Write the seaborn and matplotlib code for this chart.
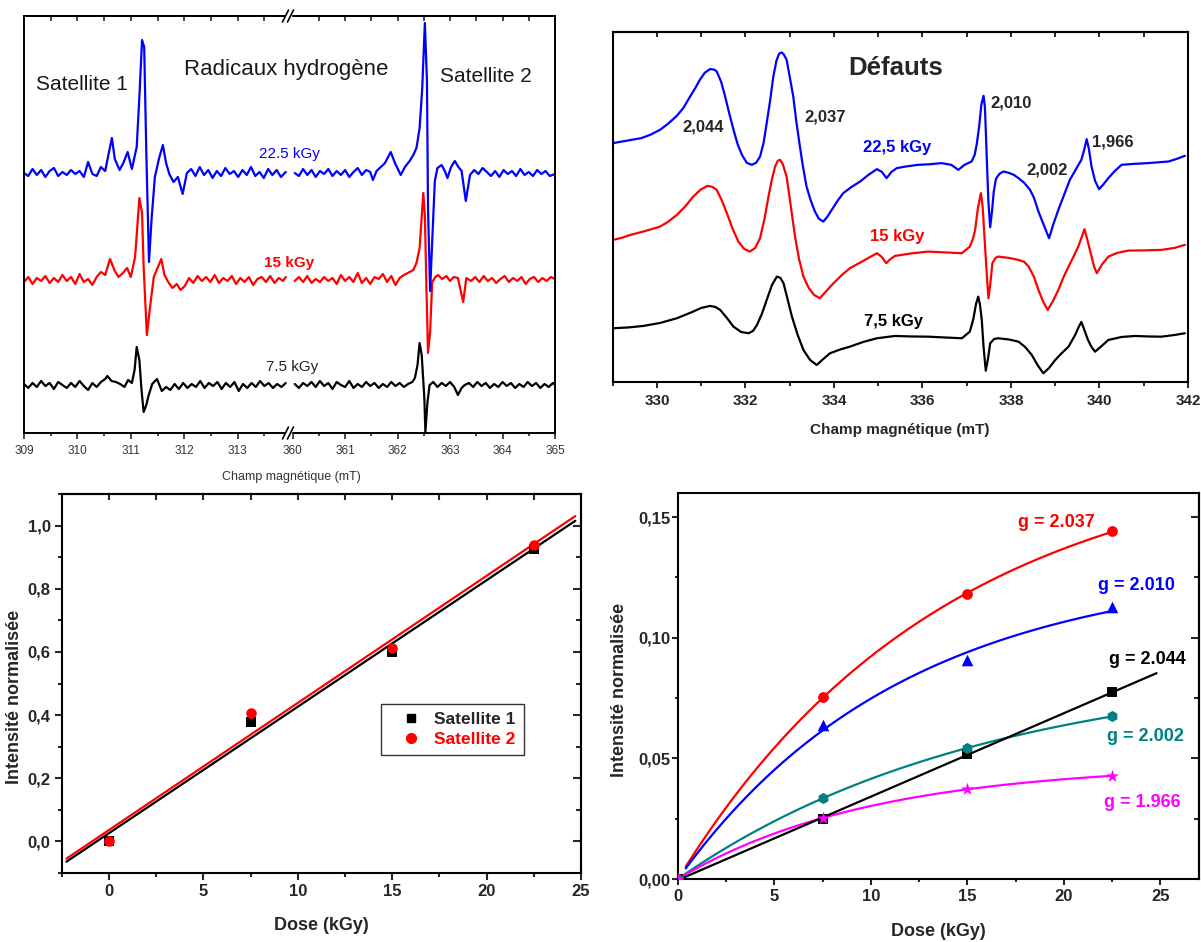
import numpy as np
import pandas as pd
import matplotlib
matplotlib.use("Agg")
import matplotlib.pyplot as plt
from matplotlib.lines import Line2D
from matplotlib.patches import Rectangle
from matplotlib.ticker import FuncFormatter
import seaborn as sns

# ---------------- Données ----------------
# Radicaux hydrogène, satellite 1 (mT / signal a.u., ligne de base = 0)
S1_X_BLUE = [309.00, 309.08, 309.16, 309.24, 309.32, 309.40, 309.48, 309.56, 309.64, 309.72,
             309.80, 309.88, 309.96, 310.04, 310.12, 310.20, 310.28, 310.36, 310.44, 310.52,
             310.58, 310.645, 310.70, 310.79, 310.86, 310.94, 311.02, 311.11, 311.16, 311.21,
             311.25, 311.29, 311.34, 311.39, 311.45, 311.53, 311.60, 311.66, 311.72, 311.80,
             311.88, 311.97, 312.05, 312.13, 312.21, 312.29, 312.37, 312.45, 312.53, 312.61,
             312.69, 312.77, 312.85, 312.93, 313.01, 313.09, 313.17, 313.25, 313.33, 313.41,
             313.49, 313.57, 313.65, 313.73, 313.81, 313.90]
S1_Y_BLUE = [0, -3, 4, -2, 3, -4, 2, 5, -3, 1,
             -2, 3, -1, 2, -4, 11, -1, -3, 6, 2,
             18, 35, 14, 3, 10, 21, 4, 26, 76, 133,
             126, 20, -89, -45, -4, 15, 28, 10, -1, -9,
             -4, -21, 0, 4, -3, 6, -2, 3, -5, 2,
             -3, 5, -1, 2, -4, 3, -2, 6, -3, 1,
             -5, 4, -2, 3, -4, 1]
S1_X_RED = [309.00, 309.08, 309.16, 309.24, 309.32, 309.40, 309.48, 309.56, 309.64, 309.72,
            309.80, 309.88, 309.96, 310.04, 310.12, 310.20, 310.28, 310.36, 310.44, 310.52,
            310.61, 310.70, 310.77, 310.85, 310.93, 311.00, 311.08, 311.16, 311.21, 311.24,
            311.30, 311.36, 311.43, 311.50, 311.57, 311.63, 311.70, 311.78, 311.86, 311.93,
            312.01, 312.09, 312.17, 312.25, 312.33, 312.41, 312.49, 312.57, 312.65, 312.73,
            312.81, 312.89, 312.97, 313.05, 313.13, 313.21, 313.29, 313.37, 313.45, 313.53,
            313.61, 313.69, 313.77, 313.85, 313.90]
S1_Y_RED = [-2, 3, -4, 2, -1, 4, -3, 2, -2, 5,
            -1, 3, -4, 6, -2, 1, -5, 3, 8, 5,
            21, 9, 3, 7, 12, 3, 23, 82, 67, 13,
            -55, -27, 3, 12, 21, 5, -2, -8, -4, -10,
            -6, 2, -3, 4, -1, 3, -2, 5, -3, 2,
            -1, 4, -4, 2, -2, 3, -5, 1, 3, -2,
            4, -3, 2, -1, 3]
S1_X_BLACK = [309.00, 309.08, 309.16, 309.24, 309.32, 309.40, 309.48, 309.56, 309.64, 309.72,
              309.80, 309.88, 309.96, 310.04, 310.12, 310.20, 310.28, 310.36, 310.44, 310.52,
              310.56, 310.64, 310.72, 310.80, 310.88, 310.95, 311.02, 311.07, 311.11, 311.16,
              311.20, 311.24, 311.29, 311.33, 311.40, 311.49, 311.58, 311.66, 311.74, 311.82,
              311.90, 311.98, 312.06, 312.14, 312.22, 312.30, 312.38, 312.46, 312.54, 312.62,
              312.70, 312.78, 312.86, 312.94, 313.02, 313.10, 313.18, 313.26, 313.34, 313.42,
              313.50, 313.58, 313.66, 313.74, 313.82, 313.90]
S1_Y_BLACK = [1, -3, 2, -2, 4, -1, 2, -4, 3, 0,
              -3, 2, -2, 4, -1, -5, 2, -2, 3, 6,
              9, 4, 3, 1, -2, 5, 2, 15, 38, 25,
              -5, -27, -20, -11, 1, 6, -6, -2, -5, 1,
              -4, 2, -3, 1, -2, 4, -3, 2, -1, 3,
              -4, 2, -2, 3, -6, 1, -3, 2, -2, 4,
              -1, 2, -3, 1, -2, 2]

# Radicaux hydrogène, satellite 2
S2_X_BLUE = [360.04, 360.12, 360.20, 360.28, 360.36, 360.44, 360.52, 360.60, 360.68, 360.76,
             360.84, 360.92, 361.00, 361.08, 361.16, 361.24, 361.32, 361.40, 361.48, 361.53,
             361.60, 361.68, 361.76, 361.87, 361.95, 362.06, 362.14, 362.23, 362.30, 362.36,
             362.42, 362.47, 362.52, 362.56, 362.58, 362.62, 362.66, 362.71, 362.76, 362.84,
             362.90, 362.95, 363.02, 363.09, 363.16, 363.22, 363.30, 363.38, 363.46, 363.54,
             363.62, 363.70, 363.78, 363.86, 363.94, 364.02, 364.10, 364.18, 364.26, 364.34,
             364.42, 364.50, 364.58, 364.66, 364.74, 364.82, 364.90, 365.00]
S2_Y_BLUE = [0, -3, 4, -2, 3, -4, 2, -1, 4, -3,
             2, -2, 3, -4, 1, 5, -2, 3, 1, -7,
             2, 6, 10, 21, 10, -2, 6, 12, 18, 25,
             45, 85, 150, 92, -35, -118, -68, -8, 5, 8,
             2, -5, 6, 12, 6, 2, -28, -2, 3, -1,
             5, 1, -3, 2, -4, 3, -1, 2, -3, 4,
             -2, 1, -3, 3, -1, 2, -3, -1]
S2_X_RED = [360.04, 360.12, 360.20, 360.28, 360.36, 360.44, 360.52, 360.60, 360.68, 360.76,
            360.84, 360.92, 361.00, 361.08, 361.16, 361.24, 361.32, 361.40, 361.48, 361.56,
            361.64, 361.72, 361.80, 361.88, 361.96, 362.04, 362.12, 362.23, 362.30, 362.36,
            362.42, 362.49, 362.52, 362.55, 362.58, 362.62, 362.66, 362.72, 362.77, 362.85,
            362.93, 363.00, 363.07, 363.15, 363.25, 363.31, 363.40, 363.48, 363.56, 363.64,
            363.72, 363.80, 363.88, 363.96, 364.04, 364.12, 364.20, 364.28, 364.36, 364.44,
            364.52, 364.60, 364.68, 364.76, 364.84, 364.92, 365.00]
S2_Y_RED = [-1, 3, -2, 4, -3, 1, -2, 3, -1, 2,
            -4, 5, -1, 3, -2, 7, -3, 2, -4, 3,
            1, 6, -2, 4, -5, 2, 5, 8, 10, 17,
            32, 87, 65, -8, -73, -52, -2, 3, 5, 1,
            4, -1, 3, 2, -22, 2, -1, 3, -2, 4,
            -1, 2, -3, 1, 4, -2, 2, -1, 3, -4,
            1, 3, -2, 2, -1, 3, 1]
S2_X_BLACK = [360.04, 360.12, 360.20, 360.28, 360.36, 360.44, 360.52, 360.60, 360.68, 360.76,
              360.84, 360.92, 361.00, 361.08, 361.16, 361.24, 361.32, 361.40, 361.48, 361.56,
              361.64, 361.72, 361.80, 361.88, 361.96, 362.04, 362.12, 362.20, 362.28, 362.33,
              362.38, 362.42, 362.46, 362.51, 362.53, 362.57, 362.61, 362.68, 362.76, 362.84,
              362.92, 363.00, 363.08, 363.15, 363.22, 363.28, 363.36, 363.44, 363.52, 363.60,
              363.68, 363.76, 363.84, 363.92, 364.00, 364.08, 364.16, 364.24, 364.32, 364.40,
              364.48, 364.56, 364.64, 364.72, 364.80, 364.88, 364.96, 365.00]
S2_Y_BLACK = [1, -3, 2, -1, 3, -2, 4, -1, 2, -4,
              3, 0, -2, 4, -3, 1, -2, 3, -1, 2,
              -3, 1, -2, 3, -1, 2, -2, 1, 3, 7,
              20, 42, 30, -13, -47, -17, 0, 3, -2, 2,
              -1, 3, -2, -10, -3, 0, 2, -2, 3, -1,
              2, -3, 1, -2, 3, -1, 2, -3, 1, -2,
              3, -1, 2, -3, 1, -2, 2, 0]

# Défauts (mT / signal a.u.)
DEF_X_BLUE = [329.01, 329.65, 329.85, 330.07, 330.25, 330.45, 330.60, 330.75, 330.87, 330.97,
              331.08, 331.20, 331.30, 331.35, 331.45, 331.54, 331.63, 331.73, 331.82, 331.92,
              332.03, 332.14, 332.24, 332.33, 332.41, 332.48, 332.56, 332.63, 332.70, 332.76,
              332.82, 332.87, 332.93, 333.00, 333.08, 333.15, 333.23, 333.30, 333.38, 333.47,
              333.57, 333.66, 333.76, 333.85, 333.95, 334.08, 334.21, 334.40, 334.59, 334.78,
              334.97, 335.08, 335.19, 335.30, 335.42, 335.65, 335.91, 336.15, 336.43, 336.65,
              336.81, 336.95, 337.11, 337.18, 337.23, 337.28, 337.33, 337.38, 337.41, 337.43,
              337.46, 337.49, 337.53, 337.57, 337.61, 337.66, 337.74, 337.83, 337.95, 338.06,
              338.17, 338.30, 338.43, 338.52, 338.62, 338.74, 338.86, 338.96, 339.07, 339.20,
              339.33, 339.46, 339.59, 339.66, 339.71, 339.76, 339.82, 339.90, 339.99, 340.08,
              340.20, 340.35, 340.50, 340.80, 341.10, 341.33, 341.56, 341.75, 341.93]
DEF_Y_BLUE = [23.7, 28.7, 32, 37, 43, 51, 59, 70.3, 79, 87,
              94, 97.7, 97, 95.3, 85, 70.3, 54, 37, 23, 12,
              4, 2, 4, 10.3, 24, 43.7, 67, 90.3, 106, 113,
              114.3, 112, 107, 90, 70.3, 45, 20.3, 0, -19.7, -33,
              -44.7, -52, -54.7, -50, -43, -34, -26.3, -20, -14.7, -8,
              -2.3, -5, -11.3, -5, -1.3, 0.5, 2, 2.5, 3.7, 2,
              -3, 2, 5.3, 12, 23.7, 40, 62, 71, 60, 37,
              0, -35, -60.3, -45, -25, -12, -7, -4.7, -6, -8,
              -11.3, -16, -23, -31, -44.7, -58, -71.3, -57, -43, -28,
              -13, -3, 7, 18, 27.7, 18, 0.3, -14, -22.3, -18,
              -11.3, -4, 2, 3, 3.7, 4.5, 5.3, 8, 11]
DEF_X_RED = [329.01, 329.20, 329.40, 329.69, 329.90, 330.07, 330.25, 330.45, 330.65, 330.82,
             330.98, 331.14, 331.25, 331.35, 331.47, 331.58, 331.71, 331.84, 331.97, 332.10,
             332.22, 332.33, 332.43, 332.52, 332.60, 332.67, 332.73, 332.78, 332.84, 332.93,
             333.02, 333.12, 333.21, 333.31, 333.43, 333.55, 333.68, 333.83, 333.99, 334.18,
             334.36, 334.66, 334.97, 335.08, 335.18, 335.28, 335.38, 335.75, 336.13, 336.50,
             336.89, 337.07, 337.14, 337.19, 337.25, 337.32, 337.36, 337.40, 337.45, 337.49,
             337.53, 337.58, 337.65, 337.71, 337.95, 338.17, 338.30, 338.40, 338.52, 338.62,
             338.73, 338.83, 338.95, 339.07, 339.18, 339.30, 339.41, 339.52, 339.60, 339.66,
             339.72, 339.82, 339.88, 339.94, 340.05, 340.20, 340.40, 340.65, 341.00, 341.40,
             341.70, 341.93]
DEF_Y_RED = [17, 19, 22, 25.3, 28, 30.3, 35, 42, 51, 60.3,
             67, 71, 70, 67, 56, 43.7, 28, 15.3, 8, 5.3,
             9, 18.7, 38, 60.3, 78, 90.3, 96, 97, 93, 80.3,
             52, 20.3, -2, -19.7, -31, -38, -41.3, -34, -26.3, -18,
             -11.3, -4, 3.7, 0, -6.3, -2, 1, 3.5, 5.3, 4.5,
             3.7, 10.3, 18, 27, 48, 63.7, 50, 20.3, -15, -41.3,
             -28, -6.3, -1, 0.3, -1, -3, -5, -9.7, -20, -33,
             -45, -53, -44, -33, -21, -9.7, 0, 10.3, 20, 27.7,
             18, 0.3, -10, -16.3, -8, 0.3, 4, 6.3, 6.5, 7,
             9, 12]
DEF_X_BLACK = [329.01, 329.35, 329.69, 330.07, 330.45, 330.80, 331.00, 331.20, 331.32, 331.43,
               331.58, 331.73, 331.90, 332.07, 332.17, 332.26, 332.37, 332.48, 332.60, 332.71,
               332.79, 332.86, 332.95, 333.05, 333.18, 333.31, 333.46, 333.61, 333.76, 333.91,
               334.14, 334.36, 334.66, 334.97, 335.38, 335.75, 336.13, 336.50, 336.89, 337.07,
               337.15, 337.21, 337.26, 337.30, 337.34, 337.38, 337.43, 337.48, 337.53, 337.62,
               337.71, 337.95, 338.17, 338.32, 338.47, 338.60, 338.73, 338.86, 339.00, 339.15,
               339.30, 339.45, 339.53, 339.59, 339.65, 339.74, 339.82, 339.90, 340.05, 340.20,
               340.50, 340.80, 341.10, 341.40, 341.70, 341.93]
DEF_Y_BLACK = [8.7, 9.5, 11, 14, 18.7, 25, 29, 31, 30, 27,
               19, 10.3, 5, 3.7, 6, 12, 23, 37, 52, 60.3,
               59, 53.7, 38, 20.3, 2, -13, -23, -28, -22, -16.3,
               -12.5, -9.7, -5, -1.3, 1, 0.5, 0.3, -0.5, -1.3, 5.3,
               18, 33, 40.3, 32, 17, -10, -33.7, -22, -6.3, -2,
               -1.3, -2.5, -4.7, -10, -18, -28, -36.3, -31, -23, -16,
               -9.7, 2, 10, 15, 8, -3, -10, -14.7, -9, -3,
               0, 1, 0.5, 0.3, 2, 3.7]

# Intensité vs dose
DOSE = [0, 7.5, 15, 22.5]
SAT1 = [0.0, 0.378, 0.601, 0.927]
SAT2 = [0.0, 0.406, 0.611, 0.938]

G_2037 = [0, 0.0755, 0.1180, 0.1442]
G_2010 = [0, 0.0638, 0.0907, 0.1127]
G_2044 = [0, 0.0247, 0.0518, 0.0774]
G_2002 = [0, 0.0336, 0.0541, 0.0675]
G_1966 = [0, 0.0251, 0.0375, 0.0426]

# ---------------- Mise en forme ----------------
sns.set_theme(style="ticks")
plt.rcParams["font.family"] = ["Liberation Sans", "DejaVu Sans"]
plt.rcParams["axes.linewidth"] = 1.5
plt.rcParams["axes.edgecolor"] = "black"

W, H = 1201, 942
fig = plt.figure(figsize=(W / 100, H / 100), dpi=100)
fig.patch.set_facecolor("white")

BLUE, RED, BLACK = "#0000FF", "#FF0000", "#000000"
TEAL, MAGENTA = "#008080", "#FF00FF"


def frac(px, py):
    return px / W, 1 - py / H


def axes_px(left, top, right, bottom):
    return fig.add_axes([left / W, 1 - bottom / H, (right - left) / W, (bottom - top) / H])


def trace(ax, x, y, color, offset=0.0, lw=1.6):
    df = pd.DataFrame({"champ": x, "signal": np.asarray(y, float) + offset})
    sns.lineplot(data=df, x="champ", y="signal", ax=ax, color=color,
                 linewidth=lw, sort=False, estimator=None)
    ax.set(xlabel="", ylabel="")


def top_ticks(ax, ticks, length=3.5, width=1.3):
    sec = ax.secondary_xaxis("top")
    sec.set_xticks(ticks, labels=[""] * len(ticks))
    sec.tick_params(direction="in", length=length, width=width)
    sec.spines["top"].set_linewidth(ax.spines["top"].get_linewidth())
    return sec


def right_ticks(ax, major, minor, width=1.5):
    sec = ax.secondary_yaxis("right")
    sec.set_yticks(major, labels=[""] * len(major))
    sec.set_yticks(minor, minor=True)
    sec.tick_params(which="major", direction="in", length=5.5, width=width)
    sec.tick_params(which="minor", direction="in", length=3.5, width=width)
    sec.spines["right"].set_linewidth(ax.spines["right"].get_linewidth())
    return sec


def comma(ndec):
    return FuncFormatter(lambda v, _: f"{v:.{ndec}f}".replace(".", ","))


# ---------- (a) Radicaux hydrogène, axe coupé ----------
axAL = axes_px(24, 16, 290, 433)
axAR = axes_px(290, 16, 555, 433)
OFF_A = {"blue": 260, "red": 153, "black": 48}

trace(axAL, S1_X_BLACK, S1_Y_BLACK, BLACK, OFF_A["black"])
trace(axAL, S1_X_RED, S1_Y_RED, RED, OFF_A["red"])
trace(axAL, S1_X_BLUE, S1_Y_BLUE, BLUE, OFF_A["blue"])
trace(axAR, S2_X_BLACK, S2_Y_BLACK, BLACK, OFF_A["black"])
trace(axAR, S2_X_RED, S2_Y_RED, RED, OFF_A["red"])
trace(axAR, S2_X_BLUE, S2_Y_BLUE, BLUE, OFF_A["blue"])

axAL.set_xlim(309, 313.98)
axAR.set_xlim(359.95, 365)
axAL.set_xticks([309, 310, 311, 312, 313])
axAL.set_xticks(np.arange(309.5, 313.6, 1.0), minor=True)
axAR.set_xticks([360, 361, 362, 363, 364, 365])
axAR.set_xticks(np.arange(360.5, 364.6, 1.0), minor=True)
for ax in (axAL, axAR):
    ax.set_ylim(0, 417)
    ax.set_yticks([])
    ax.spines[:].set_linewidth(1.4)
    ax.tick_params(axis="x", which="major", direction="out", length=4.5, width=1.2,
                   labelsize=8.5, labelcolor="#333333", pad=4)
    ax.tick_params(axis="x", which="minor", direction="out", length=2.5, width=1.2)
axAL.spines["right"].set_visible(False)
axAR.spines["left"].set_visible(False)
top_ticks(axAL, list(np.arange(309.5, 313.6, 0.5)), length=3.5, width=1.2)
top_ticks(axAR, list(np.arange(360.5, 364.6, 0.5)), length=3.5, width=1.2)

# marques de coupure //
for py in (16, 433):
    fig.add_artist(Rectangle((286 / W, 1 - (py + 3) / H), 5 / W, 6 / H,
                             transform=fig.transFigure, color="white", zorder=10))
    for dx in (-2.5, 2.5):
        x0, y0 = frac(288 + dx - 3, py + 6)
        x1, y1 = frac(288 + dx + 3, py - 6)
        fig.add_artist(Line2D([x0, x1], [y0, y1], transform=fig.transFigure,
                              color="black", lw=1.2, zorder=11))

fig.text(*frac(82, 85), "Satellite 1", ha="center", va="center", fontsize=15, color="#1a1a1a")
fig.text(*frac(286, 69), "Radicaux hydrogène", ha="center", va="center", fontsize=16, color="#1a1a1a")
fig.text(*frac(486, 77), "Satellite 2", ha="center", va="center", fontsize=15, color="#1a1a1a")
fig.text(*frac(289, 154), "22.5 kGy", ha="center", va="center", fontsize=11, color=BLUE)
fig.text(*frac(289, 263), "15 kGy", ha="center", va="center", fontsize=11, color=RED,
         fontweight="bold")
fig.text(*frac(292, 367), "7.5 kGy", ha="center", va="center", fontsize=11, color="#222222")
fig.text(*frac(291, 477), "Champ magnétique (mT)", ha="center", va="center",
         fontsize=9, color="#333333")

# ---------- (b) Défauts ----------
axB = axes_px(612.7, 31.7, 1188, 382)
OFF_B = {"blue": 215, "red": 125, "black": 45}
trace(axB, DEF_X_BLACK, DEF_Y_BLACK, BLACK, OFF_B["black"], lw=1.6)
trace(axB, DEF_X_RED, DEF_Y_RED, RED, OFF_B["red"], lw=1.6)
trace(axB, DEF_X_BLUE, DEF_Y_BLUE, BLUE, OFF_B["blue"], lw=1.6)
axB.set_xlim(329, 342)
axB.set_ylim(0, 350)
axB.set_yticks([])
axB.set_xticks(np.arange(330, 343, 2))
axB.set_xticks(np.arange(329, 342, 2), minor=True)
axB.tick_params(axis="x", which="major", direction="out", length=4.5, width=1.4,
                labelsize=11, pad=4)
axB.tick_params(axis="x", which="minor", direction="out", length=3, width=1.4)
for lab in axB.get_xticklabels():
    lab.set_fontweight("bold")
top_ticks(axB, list(range(330, 342)), length=3.5, width=1.4)

axB.text(335.40, 314, "Défauts", ha="center", va="center", fontsize=18.5, fontweight="bold")
for xv, yv, s in [(331.04, 255, "2,044"), (333.80, 265, "2,037"), (338.01, 279, "2,010"),
                  (340.31, 240, "1,966"), (338.81, 212, "2,002")]:
    axB.text(xv, yv, s, ha="center", va="center", fontsize=12, fontweight="bold")
axB.text(335.42, 234, "22,5 kGy", ha="center", va="center", fontsize=12, fontweight="bold", color=BLUE)
axB.text(335.42, 145, "15 kGy", ha="center", va="center", fontsize=12, fontweight="bold", color=RED)
axB.text(335.35, 60, "7,5 kGy", ha="center", va="center", fontsize=12, fontweight="bold", color=BLACK)
fig.text(*frac(900, 430), "Champ magnétique (mT)", ha="center", va="center",
         fontsize=11, fontweight="bold")

# ---------- (c) Satellites vs dose ----------
axC = axes_px(61.7, 494, 581, 873)
dose = np.array(DOSE, float)
fit_x = np.array([-2.25, 24.7])
for vals, col in ((SAT1, BLACK), (SAT2, RED)):
    k, b = np.polyfit(dose, np.array(vals), 1)
    sns.lineplot(x=fit_x, y=k * fit_x + b, ax=axC, color=col, linewidth=1.6)
sns.scatterplot(x=DOSE, y=SAT1, ax=axC, marker="s", color=BLACK, s=48, linewidth=0, zorder=3)
sns.scatterplot(x=DOSE, y=SAT2, ax=axC, marker="o", color=RED, s=58, linewidth=0, zorder=4)
axC.set_xlim(-2.5, 25)
axC.set_ylim(-0.1, 1.1)
axC.set_xticks(np.arange(0, 26, 5))
axC.set_xticks(np.arange(-2.5, 25.1, 2.5), minor=True)
axC.set_yticks(np.arange(0, 1.01, 0.2))
axC.set_yticks(np.arange(-0.1, 1.11, 0.1), minor=True)
axC.yaxis.set_major_formatter(comma(1))
axC.tick_params(which="major", direction="out", length=5, width=1.5, labelsize=12, pad=3)
axC.tick_params(which="minor", direction="out", length=3, width=1.5)
for lab in axC.get_xticklabels() + axC.get_yticklabels():
    lab.set_fontweight("bold")
axC.set(xlabel="", ylabel="")
top_ticks(axC, list(np.arange(0, 25, 2.5)), length=4, width=1.5)
right_ticks(axC, list(np.arange(0, 1.01, 0.2)), list(np.arange(0.1, 1.1, 0.2)))

hS1 = Line2D([], [], marker="s", color=BLACK, linestyle="none", markersize=6)
hS2 = Line2D([], [], marker="o", color=RED, linestyle="none", markersize=7)
leg = axC.legend([hS1, hS2], ["Satellite 1", "Satellite 2"],
                 loc="center", bbox_to_anchor=(0.7526, 0.3786),
                 frameon=True, fancybox=False, edgecolor="#333333", framealpha=1,
                 prop={"weight": "bold", "size": 12.5}, handletextpad=0.05,
                 borderpad=0.45, labelspacing=0.3, handlelength=2.55)
leg.get_frame().set_linewidth(1.0)
leg.get_texts()[1].set_color(RED)

fig.text(*frac(15, 697), "Intensité normalisée", rotation=90, ha="center", va="center",
         fontsize=13, fontweight="bold")
fig.text(*frac(321, 925), "Dose (kGy)", ha="center", va="center", fontsize=13, fontweight="bold")

# ---------- (d) Défauts vs dose ----------
axD = axes_px(678, 493, 1199, 879)


def saturation_fit(x, y):
    taus = np.linspace(1.0, 150.0, 3000)
    best = None
    for t in taus:
        b = 1 - np.exp(-x / t)
        a = (b @ y) / (b @ b)
        r = np.sum((a * b - y) ** 2)
        if best is None or r < best[0]:
            best = (r, a, t)
    return best[1], best[2]


series = [
    (G_2037, RED, "o", 60, 0.4),
    (G_2010, BLUE, "^", 70, 0.4),
    (G_2002, TEAL, "h", 65, 0.1),
    (G_1966, MAGENTA, "*", 95, 0.1),
]
for vals, col, mk, sz, x_start in series:
    y = np.array(vals, float)
    a, t = saturation_fit(dose, y)
    xf = np.linspace(x_start, 22.5, 120)
    sns.lineplot(x=xf, y=a * (1 - np.exp(-xf / t)), ax=axD, color=col, linewidth=1.6)

k44, b44 = np.polyfit(dose, np.array(G_2044, float), 1)
xl = np.array([0.0, 24.8])
sns.lineplot(x=xl, y=k44 * xl + b44, ax=axD, color=BLACK, linewidth=1.6)

sns.scatterplot(x=DOSE, y=G_2044, ax=axD, marker="s", color=BLACK, s=50, linewidth=0, zorder=3)
for vals, col, mk, sz, _ in series:
    sns.scatterplot(x=DOSE, y=vals, ax=axD, marker=mk, color=col, s=sz, linewidth=0, zorder=4)

axD.set_xlim(0, 27)
axD.set_ylim(0, 0.16)
axD.set_xticks(np.arange(0, 26, 5))
axD.set_xticks(np.arange(2.5, 27, 2.5), minor=True)
axD.set_yticks([0, 0.05, 0.10, 0.15])
axD.set_yticks([0.025, 0.075, 0.125], minor=True)
axD.yaxis.set_major_formatter(comma(2))
axD.tick_params(which="major", direction="out", length=4, width=1.5, labelsize=12, pad=1.5)
axD.tick_params(which="minor", direction="out", length=2.5, width=1.5)
axD.tick_params(axis="x", which="major", pad=3.5)
for lab in axD.get_xticklabels() + axD.get_yticklabels():
    lab.set_fontweight("bold")
axD.set(xlabel="", ylabel="")
right_ticks(axD, [0.05, 0.10, 0.15], [0.025, 0.075, 0.125])

for xv, yv, s, col in [(19.62, 0.1478, "g = 2.037", RED), (23.77, 0.1217, "g = 2.010", BLUE),
                       (24.34, 0.0911, "g = 2.044", BLACK), (24.23, 0.0592, "g = 2.002", TEAL),
                       (24.08, 0.0319, "g = 1.966", MAGENTA)]:
    axD.text(xv, yv, s, ha="center", va="center", fontsize=13, fontweight="bold", color=col)

fig.text(*frac(620, 690), "Intensité normalisée", rotation=90, ha="center", va="center",
         fontsize=13, fontweight="bold")
fig.text(*frac(938.5, 931), "Dose (kGy)", ha="center", va="center", fontsize=13, fontweight="bold")

fig.savefig("out.png", dpi=100, facecolor="white")
